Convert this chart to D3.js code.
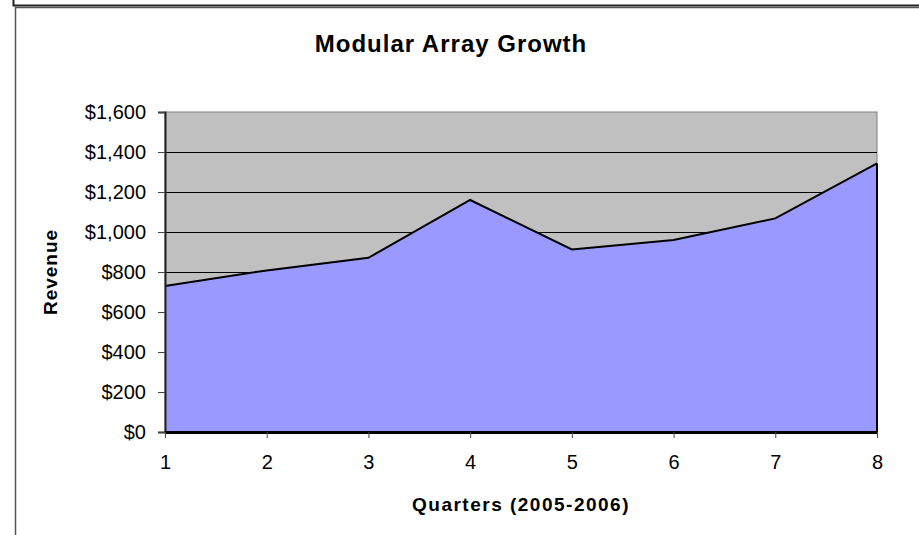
<!DOCTYPE html>
<html>
<head>
<meta charset="utf-8">
<script src="https://cdn.jsdelivr.net/npm/d3@7"></script>
<style>
  body { margin: 0; background: #fff; }
  svg { display: block; font-family: "Liberation Sans", Arial, sans-serif; }
</style>
</head>
<body>
<div class="chart-container"></div>
<script>
const quarters = [1, 2, 3, 4, 5, 6, 7, 8];
const revenue = [730, 808, 871, 1160, 913, 960, 1068, 1343];
const yTicks = [0, 200, 400, 600, 800, 1000, 1200, 1400, 1600];

const outerWidth = 919;
const outerHeight = 535;
const margin = { top: 112, right: 42, bottom: 103, left: 165 };
const width = outerWidth - margin.left - margin.right;
const height = outerHeight - margin.top - margin.bottom;
const fontFamily = '"Liberation Sans", Arial, sans-serif';

const svg = d3.select('.chart-container').append('svg')
  .attr('width', outerWidth)
  .attr('height', outerHeight);

// outer frame
svg.append('path')
  .attr('d', 'M13.5,0V5.5H' + outerWidth)
  .attr('fill', 'none')
  .attr('stroke', '#222')
  .attr('stroke-width', 2);
svg.append('path')
  .attr('d', 'M15.5,' + outerHeight + 'V7.5H' + outerWidth)
  .attr('fill', 'none')
  .attr('stroke', '#555')
  .attr('stroke-width', 1.5);

const g = svg.append('g')
  .attr('transform', `translate(${margin.left},${margin.top})`);

const x = d3.scaleLinear().domain([1, 8]).range([0, width]);
const y = d3.scaleLinear().domain([0, 1600]).range([height, 0]);

g.append('rect')
  .attr('width', width)
  .attr('height', height)
  .attr('fill', '#c0c0c0')
  .attr('stroke', '#808080');

// gridlines
g.selectAll('.grid')
  .data(yTicks.slice(1, -1))
  .enter().append('line')
  .attr('x1', 0).attr('x2', width)
  .attr('y1', d => Math.round(y(d)) + 0.5)
  .attr('y2', d => Math.round(y(d)) + 0.5)
  .attr('stroke', '#000');

const area = d3.area()
  .x((d, i) => x(quarters[i]))
  .y0(height)
  .y1(d => y(d));

const line = d3.line()
  .x((d, i) => x(quarters[i]))
  .y(d => y(d));

g.append('path')
  .datum(revenue)
  .attr('d', area)
  .attr('fill', '#9999ff');

g.append('path')
  .datum(revenue)
  .attr('d', line)
  .attr('fill', 'none')
  .attr('stroke', '#000')
  .attr('stroke-width', 2);

// right edge of the series
g.append('line')
  .attr('x1', width).attr('x2', width)
  .attr('y1', y(revenue[revenue.length - 1])).attr('y2', height)
  .attr('stroke', '#000')
  .attr('stroke-width', 2);

const yAxis = d3.axisLeft(y)
  .tickValues(yTicks)
  .tickSize(7)
  .tickPadding(12)
  .tickFormat(d => '$' + d3.format(',')(d));

const gy = g.append('g').call(yAxis);
gy.select('.domain').attr('stroke', '#222').attr('stroke-width', 2);
gy.selectAll('.tick line').attr('stroke', '#444');
gy.selectAll('text')
  .attr('font-size', 20)
  .attr('font-family', fontFamily)
  .attr('fill', '#000');

const xAxis = d3.axisBottom(x)
  .tickValues(quarters)
  .tickSize(6)
  .tickPadding(17)
  .tickSizeOuter(0)
  .tickFormat(d3.format('d'));

const gx = g.append('g')
  .attr('transform', `translate(0,${height})`)
  .call(xAxis);
gx.select('.domain').attr('stroke', '#000').attr('stroke-width', 3);
gx.selectAll('.tick line').attr('stroke', '#444');
gx.selectAll('text')
  .attr('font-size', 20)
  .attr('font-family', fontFamily)
  .attr('fill', '#000');

svg.append('text')
  .attr('x', 451)
  .attr('y', 52)
  .attr('text-anchor', 'middle')
  .attr('font-size', 24)
  .attr('font-weight', 'bold')
  .attr('letter-spacing', 1)
  .text('Modular Array Growth');

svg.append('text')
  .attr('x', margin.left + width / 2)
  .attr('y', 511)
  .attr('text-anchor', 'middle')
  .attr('font-size', 19)
  .attr('font-weight', 'bold')
  .attr('letter-spacing', 1.5)
  .text('Quarters (2005-2006)');

svg.append('text')
  .attr('transform', `translate(57,${margin.top + height / 2}) rotate(-90)`)
  .attr('text-anchor', 'middle')
  .attr('font-size', 19)
  .attr('font-weight', 'bold')
  .attr('letter-spacing', 1)
  .text('Revenue');
</script>
</body>
</html>
